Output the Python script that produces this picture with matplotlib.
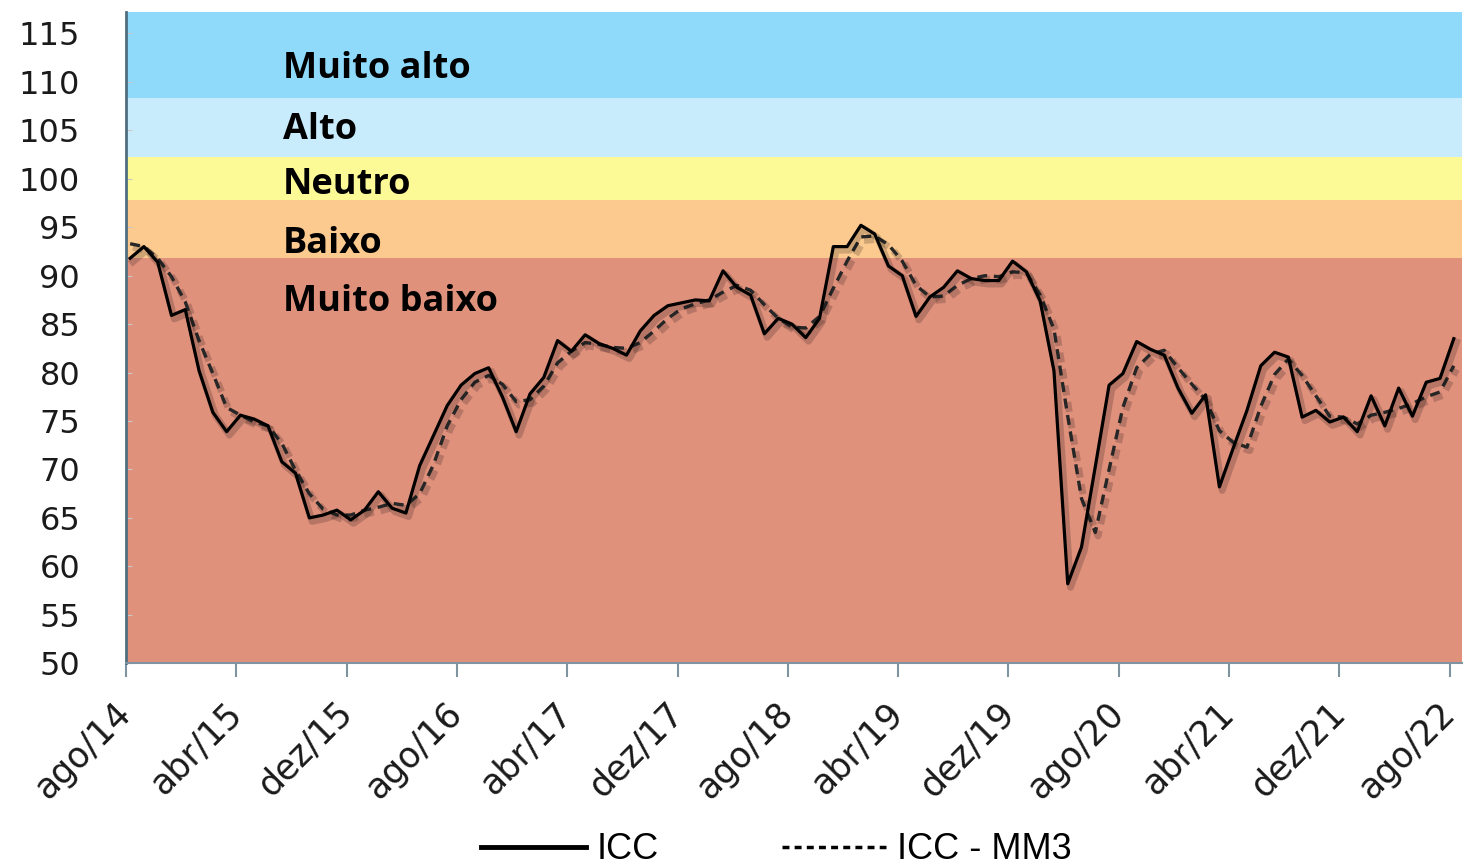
import numpy as np
import matplotlib
matplotlib.use("Agg")
import matplotlib.pyplot as plt
import matplotlib.patheffects as pe
from matplotlib.lines import Line2D

# monthly consumer confidence index, ago/14 .. ago/22
icc = [91.8, 93.0, 91.4, 85.9, 86.5, 80.2, 75.9, 73.9, 75.6, 75.2,
       74.5, 70.8, 69.6, 65.0, 65.3, 65.8, 64.8, 65.8, 67.7, 66.0,
       65.5, 70.4, 73.5, 76.6, 78.7, 79.9, 80.5, 77.5, 73.9, 77.8,
       79.5, 83.3, 82.2, 83.9, 83.0, 82.5, 81.8, 84.3, 85.9, 86.9,
       87.2, 87.5, 87.4, 90.5, 88.8, 88.0, 84.0, 85.6, 85.0, 83.6,
       85.6, 93.0, 93.0, 95.2, 94.3, 91.0, 90.0, 85.8, 87.8, 88.8,
       90.5, 89.7, 89.5, 89.5, 91.5, 90.4, 87.4, 80.2, 58.2, 62.0,
       70.3, 78.7, 79.9, 83.2, 82.4, 81.8, 78.4, 75.8, 77.7, 68.2,
       72.2, 76.1, 80.7, 82.1, 81.6, 75.4, 76.1, 74.9, 75.4, 73.9,
       77.6, 74.5, 78.4, 75.5, 79.0, 79.4, 83.5]

# three-month moving average
icc_mm3 = [93.3, 93.0, 91.8, 89.9, 87.3, 83.3, 79.9, 76.4, 75.6, 74.9,
           74.5, 72.7, 69.9, 67.5, 65.9, 65.3, 65.3, 65.8, 66.1, 66.5,
           66.3, 67.5, 70.5, 74.5, 77.2, 79.0, 79.7, 78.8, 77.0, 77.2,
           78.6, 81.0, 82.2, 83.1, 82.9, 82.6, 82.5, 83.1, 84.3, 85.6,
           86.6, 87.1, 87.5, 88.3, 89.0, 88.5, 87.0, 85.6, 84.7, 84.6,
           85.8, 88.7, 91.5, 94.0, 94.1, 93.2, 91.5, 89.0, 87.8, 87.9,
           89.0, 89.7, 90.0, 89.9, 90.4, 90.3, 88.0, 84.5, 75.5, 67.0,
           63.5, 70.0, 76.4, 80.5, 81.9, 82.3, 80.5, 78.8, 77.2, 74.0,
           72.8, 72.3, 76.5, 79.8, 81.4, 79.7, 77.6, 75.5, 75.4, 74.7,
           75.6, 75.9, 76.3, 76.8, 77.5, 78.0, 80.7]

tick_labels = ["ago/14", "abr/15", "dez/15", "ago/16", "abr/17", "dez/17",
               "ago/18", "abr/19", "dez/19", "ago/20", "abr/21", "dez/21",
               "ago/22"]

# confidence zones, bottom to top
band_names = ["Muito baixo", "Baixo", "Neutro", "Alto", "Muito alto"]
band_edges = [50, 91.8, 97.8, 102.2, 108.3, 117.2]
band_colors = ["#E0917C", "#FCC98F", "#FCFA96", "#C8ECFC", "#8FD9FB"]
label_y = [87.3, 93.3, 99.4, 105.0, 111.3]

fig = plt.figure(figsize=(14.65, 8.67), dpi=100)
ax = fig.add_axes([0.086, 0.235, 0.912, 0.751])

x = np.arange(len(icc))
x_min, x_max = -0.3, 96.6

for lo, hi, c in zip(band_edges[:-1], band_edges[1:], band_colors):
    ax.axhspan(lo, hi, color=c, lw=0, zorder=0)

for name, y in zip(band_names, label_y):
    ax.text(11.1, y, name, fontsize=26, fontweight="bold", family="Open Sans",
            va="center", ha="left", zorder=2)

shadow = [pe.SimpleLineShadow(offset=(2, -2.5), shadow_color="k", alpha=0.18,
                              linewidth=5), pe.Normal()]
ax.plot(x, icc_mm3, color="#262626", lw=2.4, dashes=(3, 2), zorder=3,
        path_effects=shadow)
ax.plot(x, icc, color="black", lw=2.3, zorder=4, path_effects=shadow)

ax.set_xlim(x_min, x_max)
ax.set_ylim(50, 117.2)
ax.set_yticks(np.arange(50, 116, 5))
ax.tick_params(axis="y", labelsize=23, direction="in", length=4,
               color="#c8c8c8", pad=33, labelcolor="#1a1a1a")
ax.set_xticks(x_min + 8 * np.arange(len(tick_labels)))
ax.set_xticklabels(tick_labels, rotation=45, ha="right", va="center",
                   rotation_mode="anchor")
ax.tick_params(axis="x", labelsize=25, length=10, width=1.5,
               color="#7f93a0", pad=22, labelcolor="#1a1a1a")

for s in ("top", "right"):
    ax.spines[s].set_visible(False)
ax.spines["left"].set_color("#4f6f80")
ax.spines["left"].set_linewidth(2)
ax.spines["bottom"].set_color("#7f93a0")
ax.spines["bottom"].set_linewidth(1.5)

handles = [Line2D([], [], color="black", lw=3.5),
           Line2D([], [], color="black", lw=2.5, dashes=(2, 1.5))]
fig.legend(handles, ["ICC", "ICC - MM3"], loc="lower center",
           bbox_to_anchor=(0.53, -0.038), ncol=2, frameon=False,
           prop={"family": "Liberation Sans", "size": 26},
           handlelength=2.9, columnspacing=3.4, handletextpad=0.3)

fig.savefig("out.png", dpi=100)
